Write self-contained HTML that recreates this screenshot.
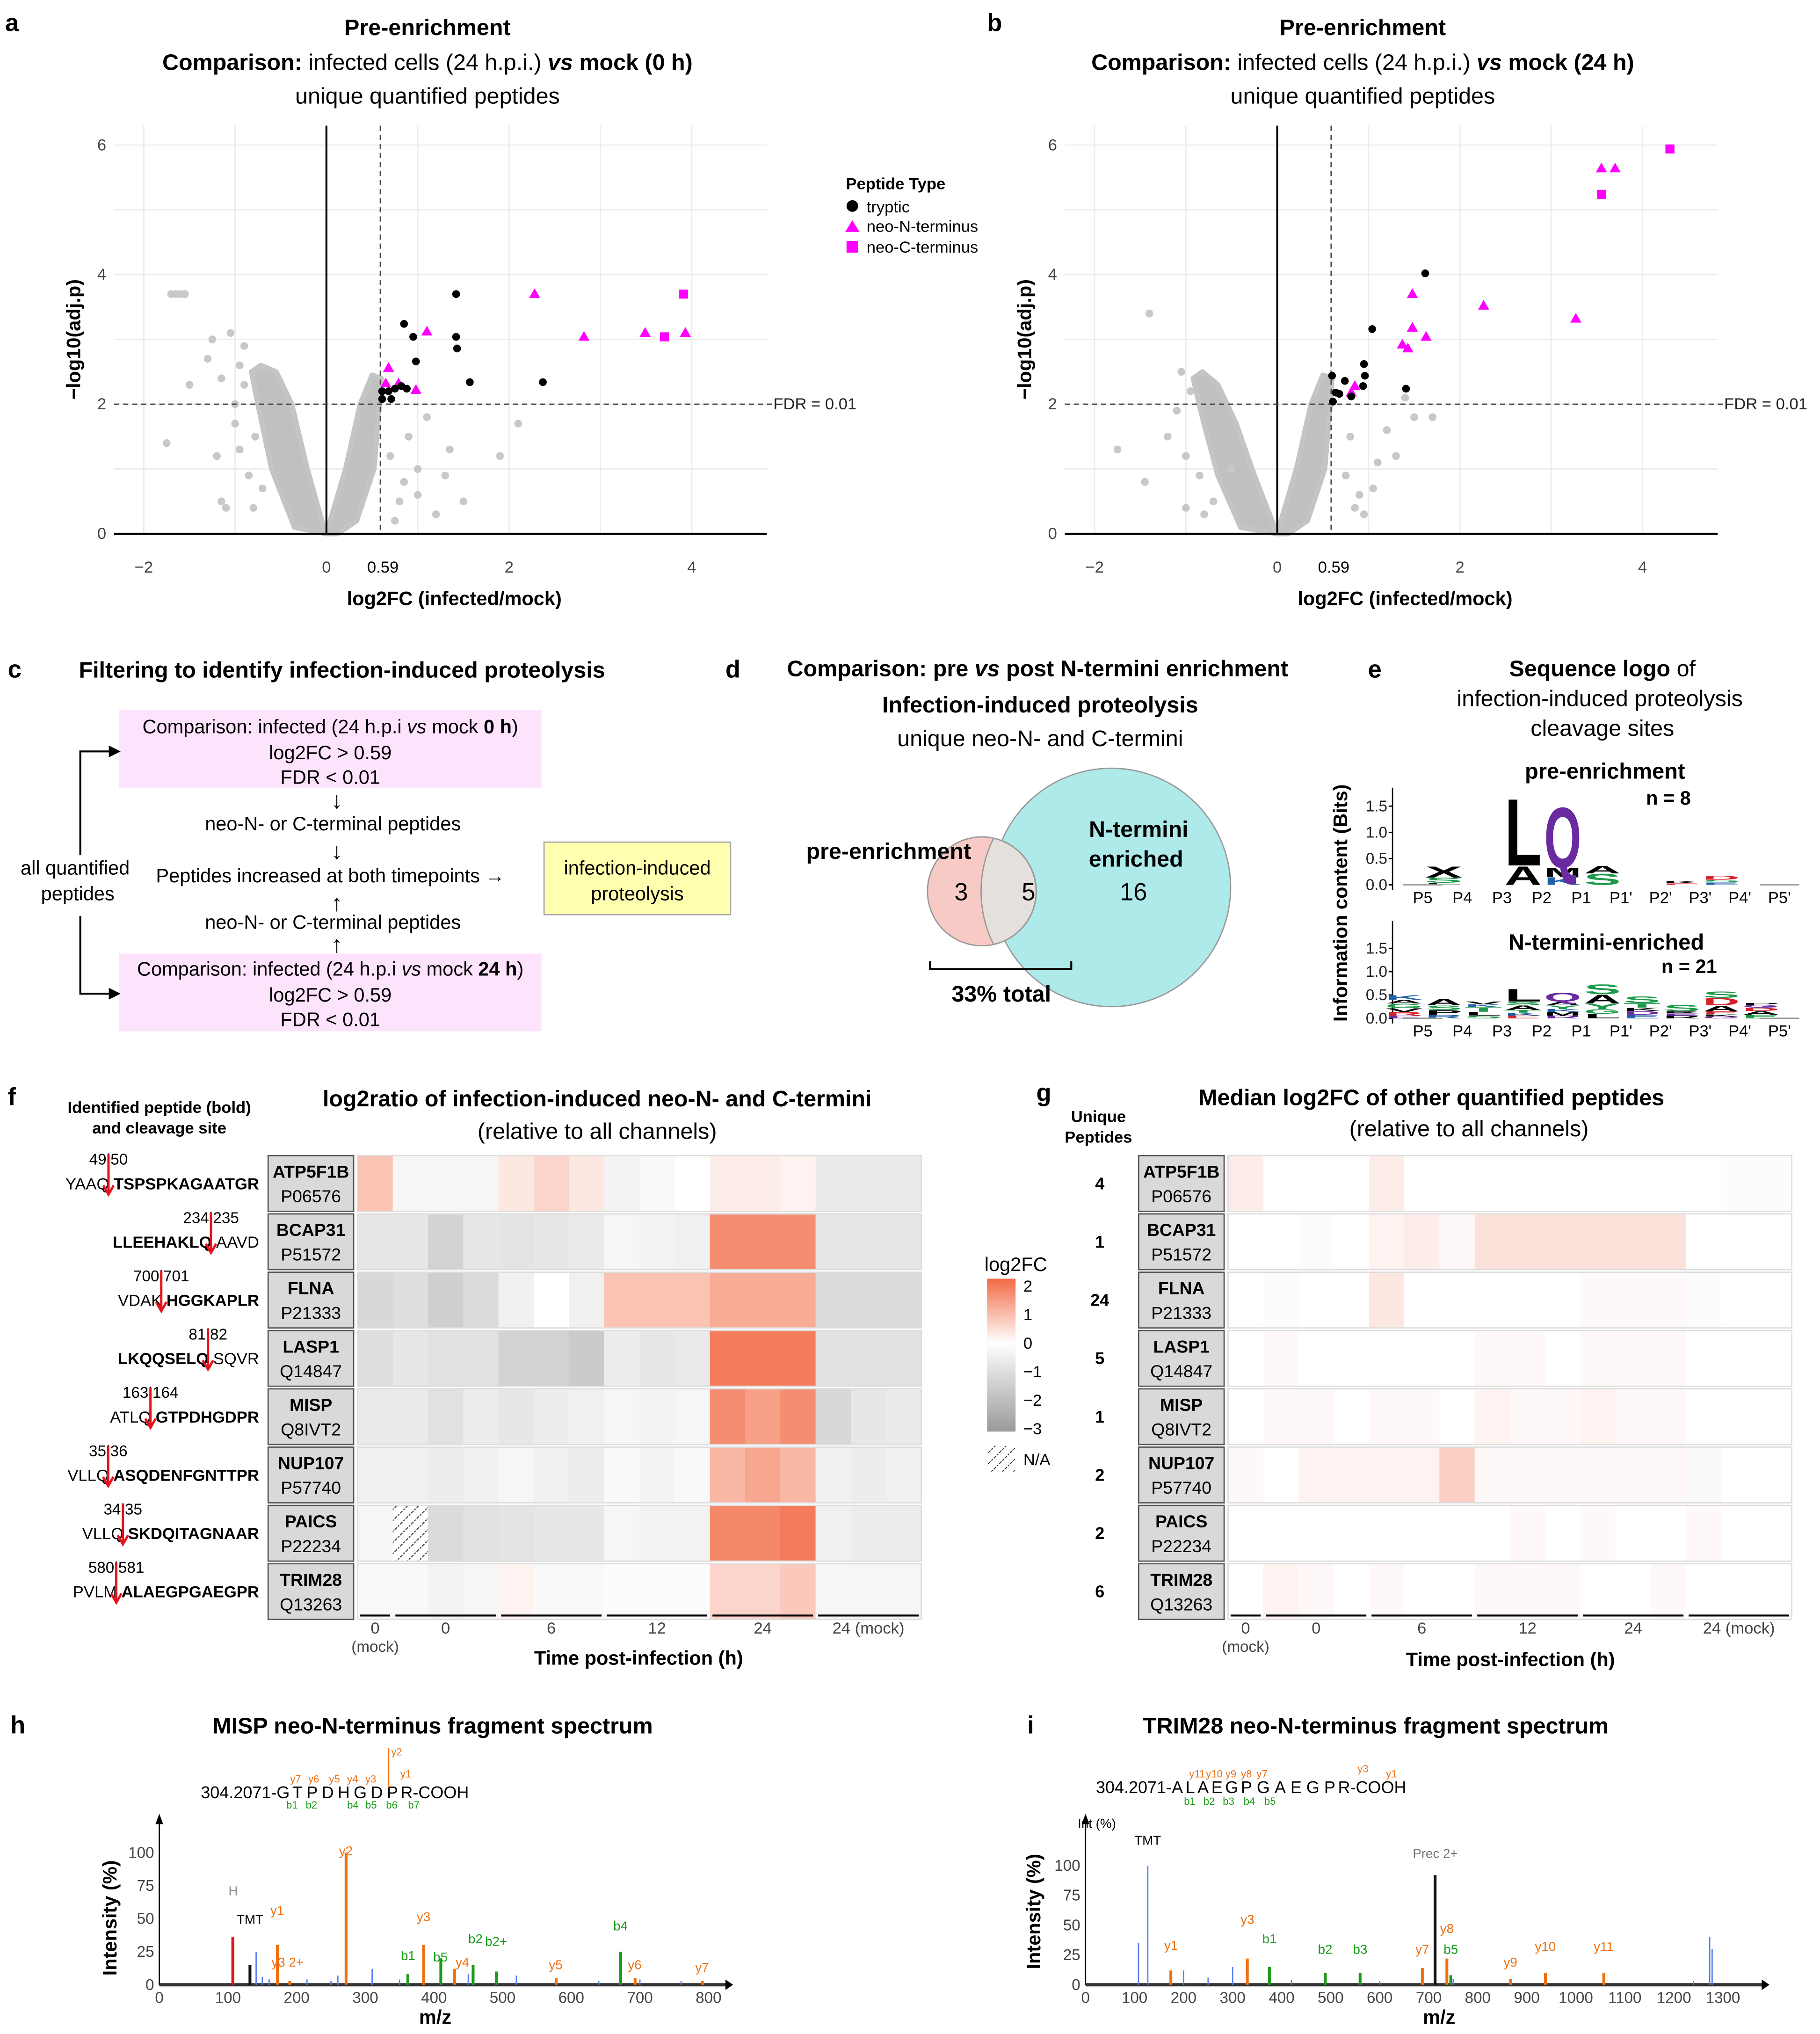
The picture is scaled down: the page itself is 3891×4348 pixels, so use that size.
<!DOCTYPE html>
<html><head><meta charset="utf-8">
<style>
html,body{margin:0;padding:0;background:#fff;}
svg{display:block;font-family:"Liberation Sans",Arial,sans-serif;}
</style></head>
<body>
<svg id="fig" width="3891" height="4348" viewBox="0 0 1405 1570" preserveAspectRatio="none" xmlns="http://www.w3.org/2000/svg">
<rect width="1405" height="1570" fill="#fff"/>
<g font-weight="bold" font-size="19">
<text x="4" y="24">a</text><text x="762" y="24">b</text><text x="6" y="523">c</text><text x="560" y="523">d</text>
<text x="1056" y="523">e</text><text x="6" y="853">f</text><text x="800" y="850">g</text><text x="8" y="1338">h</text><text x="793" y="1338">i</text>
</g>
<g text-anchor="middle" font-size="17.5">
<text x="330" y="27" font-weight="bold">Pre-enrichment</text>
<text x="330" y="54"><tspan font-weight="bold">Comparison:</tspan> infected cells (24 h.p.i.) <tspan font-weight="bold" font-style="italic">vs</tspan><tspan font-weight="bold"> mock (0 h)</tspan></text>
<text x="330" y="80">unique quantified peptides</text>
</g>
<g text-anchor="middle" font-size="17.5">
<text x="1052" y="27" font-weight="bold">Pre-enrichment</text>
<text x="1052" y="54"><tspan font-weight="bold">Comparison:</tspan> infected cells (24 h.p.i.) <tspan font-weight="bold" font-style="italic">vs</tspan><tspan font-weight="bold"> mock (24 h)</tspan></text>
<text x="1052" y="80">unique quantified peptides</text>
</g>
<g id="volA"></g>
<g id="volB"></g>
<g font-size="12.5">
<text x="653" y="146" font-weight="bold">Peptide Type</text>
<circle cx="658" cy="159" r="4.5" fill="#000"/><text x="669" y="164">tryptic</text>
<polygon points="658,170 663.5,179 652.5,179" fill="#ff00ff"/><text x="669" y="179">neo-N-terminus</text>
<rect x="653.5" y="186" width="9" height="9" fill="#ff00ff"/><text x="669" y="195">neo-C-terminus</text>
</g>

<g font-size="15" text-anchor="middle">
<text x="264" y="523" font-size="17.5" font-weight="bold">Filtering to identify infection-induced proteolysis</text>
<rect x="92" y="548" width="326" height="60" fill="#fde3fb"/>
<text x="255" y="566">Comparison: infected (24 h.p.i <tspan font-style="italic">vs</tspan> mock <tspan font-weight="bold">0 h</tspan>)</text>
<text x="255" y="586">log2FC &gt; 0.59</text><text x="255" y="605">FDR &lt; 0.01</text>
<text x="260" y="624" font-size="18">↓</text>
<text x="257" y="641">neo-N- or C-terminal peptides</text>
<text x="260" y="663" font-size="18">↓</text>
<text x="255" y="681">Peptides increased at both timepoints  →</text>
<text x="260" y="703" font-size="18">↑</text>
<text x="257" y="717">neo-N- or C-terminal peptides</text>
<text x="260" y="735" font-size="18">↑</text>
<rect x="92" y="736" width="326" height="60" fill="#fde3fb"/>
<text x="255" y="753">Comparison: infected (24 h.p.i <tspan font-style="italic">vs</tspan> mock <tspan font-weight="bold">24 h</tspan>)</text>
<text x="255" y="773">log2FC &gt; 0.59</text><text x="255" y="792">FDR &lt; 0.01</text>
<rect x="420" y="650" width="144" height="56" fill="#ffffb0" stroke="#aaa"/>
<text x="492" y="675">infection-induced</text><text x="492" y="695">proteolysis</text>
<text x="58" y="675">all quantified</text><text x="60" y="695">peptides</text>
<path d="M62,660 V580 H90 M62,707 V767 H90" fill="none" stroke="#000" stroke-width="1.5"/>
<path d="M84,576 L92,580 L84,584 M84,763 L92,767 L84,771" fill="#000" stroke="#000"/>
</g>

<g text-anchor="middle" font-size="17.5">
<text x="801" y="522" font-weight="bold">Comparison: pre <tspan font-style="italic">vs</tspan> post N-termini enrichment</text>
<text x="803" y="550" font-weight="bold">Infection-induced proteolysis</text>
<text x="803" y="576">unique neo-N- and C-termini</text>
<circle cx="858" cy="685" r="92" fill="#aeeaea" stroke="#999"/>
<circle cx="758" cy="688" r="42" fill="#f8cac6" stroke="#999"/>
<path d="M767,647 A42,42 0 0 1 767,729 A92,92 0 0 1 767,647 Z" fill="#e6e0dc" stroke="#999"/>
<text x="686" y="663" font-weight="bold">pre-enrichment</text>
<text x="879" y="646" font-weight="bold">N-termini</text><text x="877" y="669" font-weight="bold">enriched</text>
<text x="742" y="695" font-size="19">3</text><text x="794" y="695" font-size="19">5</text><text x="875" y="695" font-size="19">16</text>
<path d="M718,742 V748 H827 V742" fill="none" stroke="#000" stroke-width="1.5"/>
<text x="773" y="773" font-weight="bold">33% total</text>
</g>

<g text-anchor="middle">
<text x="1237" y="522" font-size="17.5"><tspan font-weight="bold">Sequence logo</tspan> of</text>
<text x="1235" y="545" font-size="17.5">infection-induced proteolysis</text>
<text x="1237" y="568" font-size="17.5">cleavage sites</text>
<text x="1239" y="601" font-size="17" font-weight="bold">pre-enrichment</text>
<text x="1288" y="621" font-size="15" font-weight="bold">n = 8</text>
<text x="1240" y="733" font-size="17" font-weight="bold">N-termini-enriched</text>
<text x="1304" y="751" font-size="15" font-weight="bold">n = 21</text>
<text transform="translate(1040,697) rotate(-90)" font-size="15" font-weight="bold">Information content (Bits)</text>
<g id="logos"></g>
</g>

<g>
<text x="123" y="859" text-anchor="middle" font-size="12.5" font-weight="bold">Identified peptide (bold)</text>
<text x="123" y="875" text-anchor="middle" font-size="12.5" font-weight="bold">and cleavage site</text>
<text x="461" y="854" text-anchor="middle" font-size="17.5" font-weight="bold">log2ratio of infection-induced neo-N- and C-termini</text>
<text x="461" y="879" text-anchor="middle" font-size="17.5">(relative to all channels)</text>
<text x="493" y="1285" text-anchor="middle" font-size="15" font-weight="bold">Time post-infection (h)</text>
<g id="heatF"></g>
</g>
<g>
<text x="848" y="866" text-anchor="middle" font-size="12.5" font-weight="bold">Unique</text>
<text x="848" y="882" text-anchor="middle" font-size="12.5" font-weight="bold">Peptides</text>
<text x="1105" y="853" text-anchor="middle" font-size="17.5" font-weight="bold">Median log2FC of other quantified peptides</text>
<text x="1134" y="877" text-anchor="middle" font-size="17.5">(relative to all channels)</text>
<text x="1166" y="1286" text-anchor="middle" font-size="15" font-weight="bold">Time post-infection (h)</text>
<g id="heatG"></g>
</g>
<defs>
<linearGradient id="cb" x1="0" y1="0" x2="0" y2="1">
<stop offset="0" stop-color="#f26a44"/><stop offset="0.42" stop-color="#ffffff"/><stop offset="1" stop-color="#9a9a9a"/>
</linearGradient>
<pattern id="hatch" width="6" height="6" patternUnits="userSpaceOnUse" patternTransform="rotate(45)">
<rect width="6" height="6" fill="#fff"/><line x1="0" y1="0" x2="0" y2="6" stroke="#333" stroke-width="1.5" stroke-dasharray="1.5,1"/>
</pattern>
</defs>
<g font-size="12.5">
<text x="760" y="981" font-size="15">log2FC</text>
<rect x="762" y="987" width="22" height="118" fill="url(#cb)"/>
<text x="790" y="997">2</text><text x="790" y="1019">1</text><text x="790" y="1041">0</text>
<text x="790" y="1063">−1</text><text x="790" y="1085">−2</text><text x="790" y="1107">−3</text>
<rect x="762" y="1116" width="22" height="20" fill="url(#hatch)"/>
<text x="790" y="1131">N/A</text>
</g>

<g>
<text x="334" y="1338" text-anchor="middle" font-size="17.5" font-weight="bold">MISP neo-N-terminus fragment spectrum</text>
<text x="155" y="1388" font-size="13">304.2071-G<tspan dx="2">T</tspan><tspan dx="3">P</tspan><tspan dx="3">D</tspan><tspan dx="3">H</tspan><tspan dx="3">G</tspan><tspan dx="3">D</tspan><tspan dx="3">P</tspan><tspan dx="2">R-COOH</tspan></text>
<g font-size="8" fill="#f07010"><text x="224" y="1376">y7</text><text x="238" y="1376">y6</text><text x="254" y="1376">y5</text><text x="268" y="1376">y4</text><text x="282" y="1376">y3</text><text x="302" y="1355">y2</text><text x="309" y="1372">y1</text></g>
<g font-size="8" fill="#1a9a1a"><text x="221" y="1396">b1</text><text x="236" y="1396">b2</text><text x="268" y="1396">b4</text><text x="282" y="1396">b5</text><text x="298" y="1396">b6</text><text x="315" y="1396">b7</text></g>
<path d="M300,1349 V1380" stroke="#f07010" stroke-width="1"/>
<text transform="translate(90,1525) rotate(-90)" font-size="15" font-weight="bold">Intensity (%)</text>
<text x="336" y="1562" text-anchor="middle" font-size="15" font-weight="bold">m/z</text>
<g id="specH"></g>
</g>
<g>
<text x="1062" y="1338" text-anchor="middle" font-size="17.5" font-weight="bold">TRIM28 neo-N-terminus fragment spectrum</text>
<text x="846" y="1384" font-size="13">304.2071-A<tspan dx="2">L</tspan><tspan dx="2">A</tspan><tspan dx="2">E</tspan><tspan dx="2">G</tspan><tspan dx="2">P</tspan> G <tspan>A</tspan> E <tspan>G</tspan> P<tspan dx="2">R-COOH</tspan></text>
<g font-size="8" fill="#f07010"><text x="918" y="1372">y11</text><text x="931" y="1372">y10</text><text x="946" y="1372">y9</text><text x="958" y="1372">y8</text><text x="970" y="1372">y7</text><text x="1048" y="1368">y3</text><text x="1070" y="1372">y1</text></g>
<g font-size="8" fill="#1a9a1a"><text x="914" y="1393">b1</text><text x="929" y="1393">b2</text><text x="944" y="1393">b3</text><text x="960" y="1393">b4</text><text x="976" y="1393">b5</text></g>
<text x="832" y="1411" font-size="10">Int (%)</text>
<text transform="translate(803,1520) rotate(-90)" font-size="15" font-weight="bold">Intensity (%)</text>
<text x="1111" y="1562" text-anchor="middle" font-size="15" font-weight="bold">m/z</text>
<g id="specI"></g>
</g>

<script>
const aTrypX=[1.42,1.42,1.43,0.95,0.85,0.98,1.57,2.37,0.61,0.68,0.75,0.82,0.88,0.61,0.71];
const aTrypY=[3.7,3.04,2.86,3.04,3.24,2.66,2.34,2.34,2.08,2.2,2.24,2.28,2.24,2.2,2.08];
const aNX=[2.28,1.1,2.82,3.49,3.93,0.68,0.65,0.98,0.79];
const aNY=[3.7,3.12,3.04,3.1,3.1,2.56,2.32,2.22,2.32];
const aCX=[3.91,3.7];
const aCY=[3.7,3.04];
const aOutX=[-1.75,-1.2,-1.5,-1.7,-1.65,-1.6,-1.55,-1.0,-0.9,-1.05,-0.85,-0.8,-1.15,-1.1,-0.95,-1.25,-1.15,-0.9,-0.78,-0.7,-0.95,-1.0,-1.3,1.0,1.1,1.3,0.9,2.1,1.9,0.8,1.2,1.5,0.7,0.85,1.0,0.75,1.35];
const aOutY=[1.4,1.2,2.3,3.7,3.7,3.7,3.7,1.7,2.9,3.1,0.9,0.4,0.5,0.4,1.3,3.0,2.4,2.3,1.5,0.7,2.6,2.0,2.7,1.0,1.8,0.9,1.5,1.7,1.2,0.5,0.3,0.5,1.2,0.8,0.6,0.2,1.3];
const aCloudX=[0,-0.35,-0.6,-0.75,-0.82,-0.72,-0.55,-0.38,-0.21,-0.03,0.02,0.21,0.37,0.5,0.6,0.58,0.52,0.33,0.12];
const aCloudY=[0,0.1,1,2,2.5,2.6,2.5,2,1,0.1,0.1,1,2,2.45,2.4,2,1,0.2,0];
const bTrypX=[1.62,1.04,0.95,0.96,0.6,0.74,1.41,0.94,0.64,0.61,0.81,0.68];
const bTrypY=[4.02,3.16,2.62,2.44,2.44,2.36,2.24,2.28,2.18,2.04,2.12,2.16];
const bNX=[3.55,3.7,2.26,1.48,1.48,1.63,1.37,1.43,3.27,0.85,0.81];
const bNY=[5.64,5.64,3.52,3.7,3.18,3.04,2.92,2.86,3.32,2.28,2.18];
const bCX=[4.3,3.55];
const bCY=[5.94,5.24];
const bOutX=[-1.4,-1.75,-1.45,-1.2,-1.0,-0.7,-0.5,0.9,1.1,1.2,1.3,1.7,0.8,0.95,1.4,1.5,-1.05,-0.95,-1.1,-0.85,-1.0,-0.8,0.75,0.85,1.05];
const bOutY=[3.4,1.3,0.8,1.5,0.4,0.5,1.0,0.6,1.1,1.6,1.2,1.8,1.5,0.3,2.1,1.8,2.5,2.2,1.9,0.9,1.2,0.3,0.9,0.4,0.7];
const bCloudX=[0,-0.4,-0.65,-0.82,-0.92,-0.82,-0.65,-0.45,-0.25,-0.03,0.02,0.21,0.37,0.5,0.6,0.58,0.52,0.33,0.12];
const bCloudY=[0,0.1,0.9,1.8,2.4,2.5,2.3,1.7,0.9,0.1,0.1,1,2,2.45,2.4,2,1,0.2,0];
const xTicks=[-2,0,2,4];
const yTicks=[0,2,4,6];
const gridX=[-2,-1,0,1,2,3,4];
const gridY=[0,1,2,3,4,5,6];

const NS="http://www.w3.org/2000/svg";
function el(tag,attrs,parent){const e=document.createElementNS(NS,tag);for(const k in attrs)e.setAttribute(k,attrs[k]);parent.appendChild(e);return e;}
function txt(s,attrs,parent){const e=el('text',attrs,parent);e.textContent=s;return e;}

function volcano(g,x0,X0,X1,tX,tY,nX,nY,cX,cY,oX,oY,clX,clY){
  const sx=v=>x0+v*70.5, sy=v=>412-v*50;
  gridX.forEach(v=>el('line',{x1:sx(v),x2:sx(v),y1:97,y2:412,stroke:'#ececec','stroke-width':1},g));
  gridY.forEach(v=>el('line',{x1:X0,x2:X1,y1:sy(v),y2:sy(v),stroke:'#ececec','stroke-width':1},g));
  const pts=clX.map((v,i)=>sx(v)+','+sy(clY[i])).join(' ');
  const cl=el('polygon',{points:pts,fill:'#c0c0c0',stroke:'#c4c4c4','stroke-width':4,'stroke-linejoin':'round'},g);
  
  
  oX.forEach((v,i)=>{const c=el('circle',{cx:sx(v),cy:sy(oY[i]),r:3,fill:'#c8c8c8'},g);
    
    });
  el('line',{x1:X0,x2:X1,y1:412,y2:412,stroke:'#000','stroke-width':1.5},g);
  el('line',{x1:sx(0),x2:sx(0),y1:97,y2:412,stroke:'#000','stroke-width':1.5},g);
  el('line',{x1:sx(0.59),x2:sx(0.59),y1:97,y2:412,stroke:'#444','stroke-dasharray':'4,3'},g);
  el('line',{x1:X0,x2:X1+6,y1:sy(2),y2:sy(2),stroke:'#444','stroke-dasharray':'4,3'},g);
  txt('FDR = 0.01',{x:X1+5,y:sy(2)+4,'font-size':12.5,fill:'#222'},g);
  xTicks.forEach(t=>{const lab=txt(t<0?'−'+(-t):String(t),{x:sx(t),y:442,'text-anchor':'middle','font-size':12.5,fill:'#444'},g);
    
    });
  txt('0.59',{x:sx(0.59)+2,y:442,'text-anchor':'middle','font-size':12.5,fill:'#000'},g);
  yTicks.forEach(t=>{const lab=txt(String(t),{x:X0-6,y:sy(t)+4,'text-anchor':'end','font-size':12.5,fill:'#444'},g);
    
    });
  const xt=txt('log2FC (infected/mock)',{x:sx(1.4),y:467,'text-anchor':'middle','font-size':15,'font-weight':'bold'},g);
  
  
  const yt=txt('−log10(adj.p)',{transform:`translate(${X0-26},${sy(3)}) rotate(-90)`,'text-anchor':'middle','font-size':15,'font-weight':'bold'},g);
  
  
  nX.forEach((v,i)=>{const x=sx(v),y=sy(nY[i]);const p=el('polygon',{points:`${x},${y-4.5} ${x+4.3},${y+3} ${x-4.3},${y+3}`,fill:'#ff00ff'},g);
    
    });
  cX.forEach((v,i)=>{const r=el('rect',{x:sx(v)-3.5,y:sy(cY[i])-3.5,width:7,height:7,fill:'#ff00ff'},g);
    
    });
  tX.forEach((v,i)=>{const c=el('circle',{cx:sx(v),cy:sy(tY[i]),r:3,fill:'#000'},g);
    
    });
}
volcano(document.getElementById('volA'),252,88,592,aTrypX,aTrypY,aNX,aNY,aCX,aCY,aOutX,aOutY,aCloudX,aCloudY);
volcano(document.getElementById('volB'),986,822,1326,bTrypX,bTrypY,bNX,bNY,bCX,bCY,bOutX,bOutY,bCloudX,bCloudY);

const logoPos=["P5","P4","P3","P2","P1","P1'","P2'","P3'","P4'","P5'"];
const logoTicks=[0,0.5,1.0,1.5];
const preLetters=[[1,'E','#000',0.04],[1,'S','#1a9a48',0.1],[1,'X','#000',0.22],[3,'A','#000',0.37],[3,'L','#000',1.33],[4,'K','#2060a8',0.15],[4,'M','#000',0.18],[4,'Q','#6a2aa0',1.2],[5,'S','#1a9a48',0.22],[5,'A','#000',0.15],[7,'E','#d8202a',0.03],[7,'K','#000',0.04],[8,'E','#2060a8',0.05],[8,'S','#1a9a48',0.05],[8,'D','#d8202a',0.08]];
const postLetters=[[0,'E','#6a2aa0',0.06],[0,'R','#d8202a',0.08],[0,'V','#000',0.08],[0,'G','#1a9a48',0.1],[0,'A','#000',0.08],[0,'K','#2060a8',0.1],
[1,'R','#2060a8',0.08],[1,'P','#000',0.1],[1,'S','#1a9a48',0.1],[1,'A','#000',0.14],
[2,'S','#1a9a48',0.06],[2,'L','#000',0.08],[2,'T','#1a9a48',0.1],[2,'K','#2060a8',0.06],[2,'V','#000',0.06],
[3,'E','#d8202a',0.06],[3,'K','#2060a8',0.06],[3,'T','#1a9a48',0.06],[3,'A','#000',0.1],[3,'S','#1a9a48',0.08],[3,'L','#000',0.28],
[4,'R','#6a2aa0',0.06],[4,'M','#000',0.08],[4,'K','#2060a8',0.06],[4,'Y','#1a9a48',0.08],[4,'A','#000',0.08],[4,'Q','#6a2aa0',0.2],
[5,'L','#000',0.1],[5,'G','#1a9a48',0.1],[5,'Y','#1a9a48',0.12],[5,'A','#000',0.2],[5,'S','#1a9a48',0.22],
[6,'E','#2060a8',0.08],[6,'D','#6a2aa0',0.08],[6,'K','#000',0.07],[6,'T','#1a9a48',0.1],[6,'S','#1a9a48',0.15],
[7,'R','#000',0.06],[7,'E','#6a2aa0',0.05],[7,'R','#000',0.04],[7,'S','#1a9a48',0.15],
[8,'G','#6a2aa0',0.04],[8,'K','#000',0.05],[8,'E','#d8202a',0.06],[8,'A','#000',0.13],[8,'D','#d8202a',0.16],[8,'S','#1a9a48',0.14],
[9,'E','#1a9a48',0.08],[9,'A','#000',0.08],[9,'D','#d8202a',0.07],[9,'G','#6a2aa0',0.06],[9,'P','#000',0.04]];
function logo(g,base,ppb,letters){
  const x0=1083,w=30.6;
  el('line',{x1:1075,x2:1075,y1:base-75,y2:base+4,stroke:'#000'},g);
  logoTicks.forEach(t=>{txt(t.toFixed(1),{x:1071,y:base-t*ppb+4,'text-anchor':'end','font-size':12,fill:'#222'},g);
    el('line',{x1:1072,x2:1075,y1:base-t*ppb,y2:base-t*ppb,stroke:'#000'},g);});
  logoPos.forEach((p,i)=>{txt(p,{x:x0+w*i+w/2,y:base+14,'text-anchor':'middle','font-size':12.5,fill:'#000'},g);});
  const h=new Array(10).fill(0);
  letters.forEach(([i,ch,col,bits])=>{
    const hh=bits*ppb; const yb=base-h[i]; h[i]+=hh;
    const fs=hh/0.73;
    const t=txt(ch,{x:x0+w*i+1,y:0,'font-size':100,'font-weight':'bold',fill:col,textLength:w-2,lengthAdjust:'spacingAndGlyphs',transform:`translate(0,${yb}) scale(1,${fs/100}) `},g);
    
    
  });
  el('line',{x1:x0,x2:x0+w,y1:base,y2:base,stroke:'#999'},g);
  el('line',{x1:x0+9*w,x2:x0+10*w,y1:base,y2:base,stroke:'#999'},g);
}
const lg=document.getElementById('logos');
logo(lg,683,40.5,preLetters);
logo(lg,786,36,postLetters);

const proteins=["ATP5F1B","BCAP31","FLNA","LASP1","MISP","NUP107","PAICS","TRIM28"];
const accessions=["P06576","P51572","P21333","Q14847","Q8IVT2","P57740","P22234","Q13263"];
const siteNums=["49|50","234|235","700|701","81|82","163|164","35|36","34|35","580|581"];
const siteLeft=["YAAQ","LLEEHAKLQ","VDAK","LKQQSELQ","ATLQ","VLLQ","VLLQ","PVLM"];
const siteRight=["TSPSPKAGAATGR","AAVD","HGGKAPLR","SQVR","GTPDHGDPR","ASQDENFGNTTPR","SKDQITAGNAAR","ALAEGPGAEGPR"];
const leftBold=[false,true,false,true,false,false,false,false];
const uniquePeptides=["4","1","24","5","1","2","2","6"];
const groupLabels=["0","0","6","12","24","24 (mock)"];
const groupSizes=[1,3,3,3,3,3];
const fVals=[
[1.0,-0.3,-0.3,-0.3,0.4,0.7,0.4,-0.4,-0.2,0,0.3,0.3,0.2,-0.7,-0.7,-0.7],
[-0.8,-0.8,-1.5,-0.8,-0.9,-0.8,-0.7,-0.3,-0.4,-0.5,1.9,1.9,1.9,-0.8,-0.8,-0.8],
[-1.3,-1.1,-1.6,-1.2,-0.5,0,-0.5,1.0,1.0,1.0,1.4,1.4,1.4,-1.2,-1.2,-1.2],
[-1.1,-0.8,-1.0,-1.0,-1.5,-1.5,-1.7,-0.6,-0.8,-0.7,2.2,2.2,2.2,-1.0,-1.0,-1.0],
[-0.7,-0.7,-1.0,-0.6,-0.8,-0.6,-0.5,-0.3,-0.4,-0.3,1.9,1.6,1.9,-1.3,-0.8,-0.7],
[-0.5,-0.5,-0.6,-0.5,-0.3,-0.5,-0.6,-0.2,-0.4,-0.2,1.2,1.5,1.2,-0.5,-0.6,-0.5],
[-0.3,null,-1.2,-1.0,-0.9,-0.8,-0.8,-0.3,-0.4,-0.4,2.0,2.0,2.2,-0.5,-0.6,-0.6],
[-0.2,-0.2,-0.4,-0.3,0.2,-0.2,-0.2,-0.1,-0.1,-0.1,0.7,0.7,0.9,-0.3,-0.3,-0.3]];
const gVals=[
[0.3,0,0,0,0.3,0,0,0,0,0,0,0,0,0,-0.1,-0.1],
[0,0,-0.1,0,0.2,0.3,0.1,0.5,0.5,0.5,0.5,0.5,0.5,0,0,0],
[0,-0.1,0,0,0.4,0,0,0,0,0,0.1,0.1,0.1,-0.1,0,0],
[0,0.1,0,0,0,0,0,0.1,0.1,0,0.1,0.1,0.1,0,0,0],
[0,0.1,0.1,0,0.1,0.1,0,0.2,0.1,0.1,0.2,0.1,0.1,0,0,0],
[0.1,0,0.2,0.2,0.2,0.2,0.8,0.1,0.1,0.1,0.1,0.1,0.1,-0.2,0,0],
[0,0,0,0,0,0,0,0,0.1,0,0.1,0,0,0.1,0,0],
[0,0.2,0.1,0,0.1,0,0,0.1,0.1,0.1,0,0,0.1,0,0,0]];
function mix(a,b,t){return a.map((v,i)=>Math.round(v+(b[i]-v)*t));}
function color(v){
  if(v===null) return 'url(#hatch)';
  if(v>=0){const t=Math.min(v/2.5,1);const c=mix([255,255,255],[242,106,68],t);return `rgb(${c})`;}
  const t=Math.min(-v/3.2,1);const c=mix([255,255,255],[158,158,158],t);return `rgb(${c})`;
}
function heat(g,x0,vals,boxX,tickY){
  const cw=27.2,rh=43;
  vals.forEach((row,r)=>{
    const y=892+45*r;
    const bx=el('rect',{x:boxX,y:y,width:66,height:rh,fill:'#d9d9d9',stroke:'#555','stroke-width':1},g);
    
    
    txt(proteins[r],{x:boxX+33,y:y+17,'text-anchor':'middle','font-size':13.5,'font-weight':'bold'},g);
    txt(accessions[r],{x:boxX+33,y:y+36,'text-anchor':'middle','font-size':13.5},g);
    row.forEach((v,c)=>{
      const cell=el('rect',{x:x0+cw*c,y:y,width:cw+0.5,height:rh,fill:color(v)},g);
      
      
    });
    el('rect',{x:x0,y:y,width:cw*16,height:rh,fill:'none',stroke:'#ddd'},g);
  });
  let c=0;
  groupSizes.forEach((n,i)=>{
    const xa=x0+cw*c+2,xb=x0+cw*(c+n)-2;
    el('line',{x1:xa,x2:xb,y1:1247,y2:1247,stroke:'#000','stroke-width':1.5},g);
    const lab=txt(groupLabels[i],{x:(xa+xb)/2,y:tickY,'text-anchor':'middle','font-size':12.5,fill:'#444'},g);
    
    
    if(i===0) txt('(mock)',{x:(xa+xb)/2,y:tickY+14,'text-anchor':'middle','font-size':12,fill:'#444'},g);
    c+=n;
  });
}
const hf=document.getElementById('heatF'), hg=document.getElementById('heatG');
heat(hf,276,fVals,207,1261);
heat(hg,948,gVals,879,1261);
proteins.forEach((p,r)=>{
  const y=892+45*r;
  const t=el('text',{x:200,y:y+26,'text-anchor':'end','font-size':12.5},hf);
  const a=document.createElementNS(NS,'tspan');a.textContent=siteLeft[r];if(leftBold[r])a.setAttribute('font-weight','bold');t.appendChild(a);
  const sp=document.createElementNS(NS,'tspan');sp.textContent=' ';t.appendChild(sp);
  const b=document.createElementNS(NS,'tspan');b.textContent=siteRight[r];if(!leftBold[r])b.setAttribute('font-weight','bold');t.appendChild(b);
  
  
  const ax=200-b.getComputedTextLength()-4;
  txt(siteNums[r],{x:ax,y:y+7,'text-anchor':'middle','font-size':12},hf);
  el('path',{d:`M${ax},${y-1} V${y+29} M${ax-4},${y+23} L${ax},${y+30} L${ax+4},${y+23}`,stroke:'#e8101a','stroke-width':1.8,fill:'none'},hf);
  txt(uniquePeptides[r],{x:849,y:y+26,'text-anchor':'middle','font-size':13,'font-weight':'bold'},hg);
});

const hMz=[107,132,141,172,190,272,385,362,410,430,457,491,672,578,693,791,150,160,215,250,260,310,350,450,520,640,700,760];
const hInt=[36,15,25,30,3,100,30,8,20,12,15,10,25,5,5,3,6,4,4,3,7,12,4,8,7,3,4,3];
const hCol=['r','k','b','o','o','o','o','g','g','o','g','g','g','o','o','o','b','b','b','b','b','b','b','b','b','b','b','b'];
const iMz=[127,108,174,330,375,489,560,713,687,737,745,867,938,1057,1273,1278,200,250,300,420,600,750,1240];
const iInt=[100,35,12,22,15,10,10,92,14,22,8,5,10,10,40,30,12,6,15,4,3,5,3];
const iCol=['b','b','o','o','g','g','g','k','o','o','g','o','o','o','b','b','b','b','b','b','b','b','b'];
const hXTicks=[0,100,200,300,400,500,600,700,800];
const iXTicks=[0,100,200,300,400,500,600,700,800,900,1000,1100,1200,1300];
const intTicks=[0,25,50,75,100];
const cmap={r:'#e8101a',k:'#111',b:'#5a7ef0',o:'#f07010',g:'#1a9a1a'};
function spectrum(g,x0,pxPer100,y0,pyPer,mz,inten,col,xt,xEnd){
  const sx=v=>x0+v*pxPer100/100, sy=v=>y0-v*pyPer;
  el('line',{x1:x0,x2:xEnd,y1:y0,y2:y0,stroke:'#333','stroke-width':2.5},g);
  el('path',{d:`M${xEnd},${y0-4} L${xEnd+6},${y0} L${xEnd},${y0+4}Z`,fill:'#000'},g);
  el('line',{x1:x0,x2:x0,y1:y0,y2:y0-130,stroke:'#000'},g);
  el('path',{d:`M${x0-3},${y0-124} L${x0},${y0-132} L${x0+3},${y0-124}Z`,fill:'#000'},g);
  xt.forEach(t=>{const l=txt(String(t),{x:sx(t),y:y0+14,'text-anchor':'middle','font-size':12,fill:'#444'},g);
    
    });
  intTicks.forEach(t=>{txt(String(t),{x:x0-4,y:sy(t)+4,'text-anchor':'end','font-size':12,fill:'#444'},g);});
  mz.forEach((m,i)=>{
    const c=cmap[col[i]];
    const bar=el('line',{x1:sx(m),x2:sx(m),y1:y0,y2:sy(inten[i]),stroke:c,'stroke-width':col[i]==='b'?1:2.2},g);
    
    
  });
}
spectrum(document.getElementById('specH'),123,53,1532,1.02,hMz,hInt,hCol,hXTicks,560);
spectrum(document.getElementById('specI'),838,37.85,1532,0.92,iMz,iInt,iCol,iXTicks,1360);
const gH=document.getElementById('specH');
[[267,1432,'y2','#f07010'],[214,1478,'y1','#f07010'],[327,1483,'y3','#f07010'],[180,1463,'H','#888'],[193,1485,'TMT','#000'],[315,1513,'b1','#1a9a1a'],[367,1500,'b2','#1a9a1a'],[383,1502,'b2+','#1a9a1a'],[479,1490,'b4','#1a9a1a'],[429,1520,'y5','#f07010'],[490,1520,'y6','#f07010'],[542,1522,'y7','#f07010'],[222,1518,'y3 2+','#f07010'],[340,1514,'b5','#1a9a1a'],[357,1518,'y4','#f07010']].forEach(a=>txt(a[2],{x:a[0],y:a[1],'text-anchor':'middle','font-size':10,fill:a[3]},gH));
const gI=document.getElementById('specI');
[[886,1424,'TMT','#000'],[1108,1434,'Prec 2+','#777'],[904,1505,'y1','#f07010'],[963,1485,'y3','#f07010'],[980,1500,'b1','#1a9a1a'],[1023,1508,'b2','#1a9a1a'],[1050,1508,'b3','#1a9a1a'],[1098,1508,'y7','#f07010'],[1117,1492,'y8','#f07010'],[1120,1508,'b5','#1a9a1a'],[1166,1518,'y9','#f07010'],[1193,1506,'y10','#f07010'],[1238,1506,'y11','#f07010']].forEach(a=>txt(a[2],{x:a[0],y:a[1],'text-anchor':'middle','font-size':10,fill:a[3]},gI));
</script>
</svg>
</body></html>
